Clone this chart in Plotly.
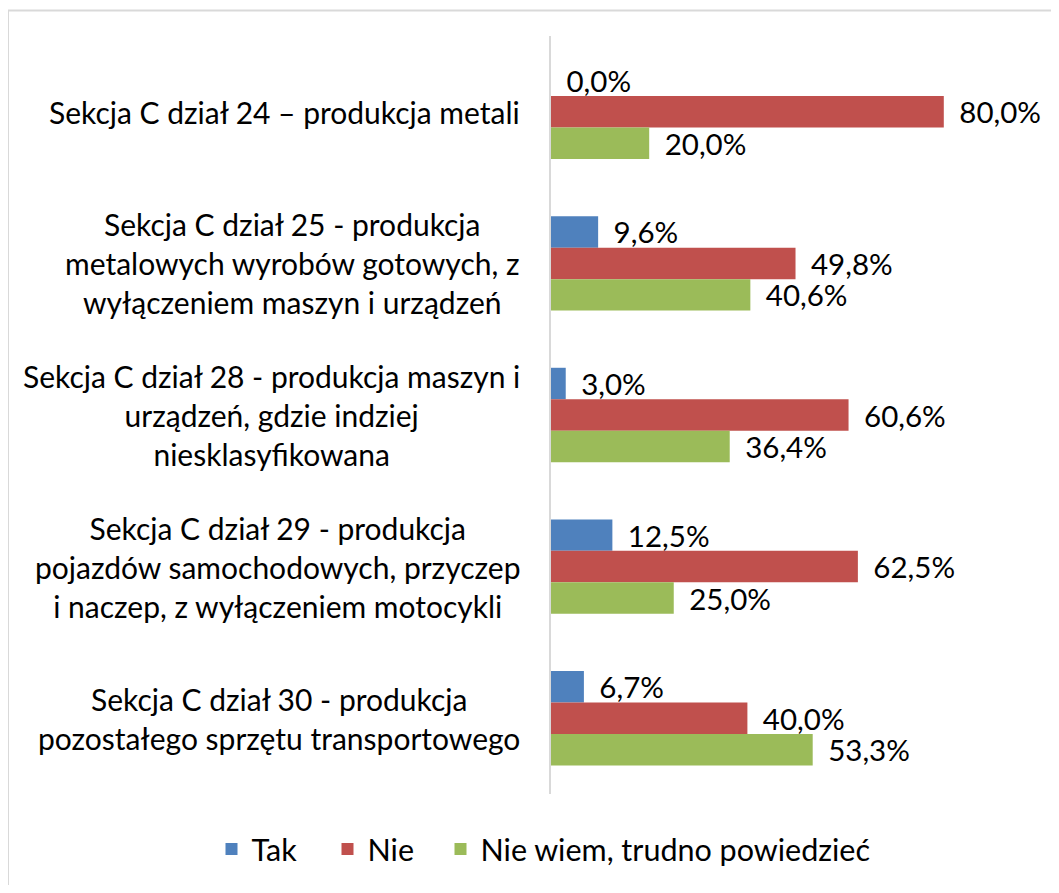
import plotly.graph_objects as go

categories = [
    "Sekcja C dział 24 – produkcja metali",
    "Sekcja C dział 25 - produkcja<br>metalowych wyrobów gotowych, z<br>wyłączeniem maszyn i urządzeń",
    "Sekcja C dział 28 - produkcja maszyn i<br>urządzeń, gdzie indziej<br>niesklasyfikowana",
    "Sekcja C dział 29 - produkcja<br>pojazdów samochodowych, przyczep<br>i naczep, z wyłączeniem motocykli",
    "Sekcja C dział 30 - produkcja<br>pozostałego sprzętu transportowego",
]
series_names = ["Tak", "Nie", "Nie wiem, trudno powiedzieć"]
tak = [0.0, 9.6, 3.0, 12.5, 6.7]
nie = [80.0, 49.8, 60.6, 62.5, 40.0]
nie_wiem = [20.0, 40.6, 36.4, 25.0, 53.3]
colors = ["#4F81BD", "#C0504D", "#9BBB59"]

FONT = "Lato, 'Open Sans', sans-serif"
# page has an 8px body margin; figure coordinates are page minus 8
W, H = 1043, 877
L, T = 543, 28
pw, ph = 491, 770
R = W - L - pw
B = H - T - ph

legend_ids = ["legend", "legend2", "legend3"]
legend_px = [203.5, 319.5, 432.5]  # left edge of each legend entry (figure px)

def fmt(v):
    return "\u00a0\u2006" + f"{v:.1f}".replace(".", ",") + "%"

fig = go.Figure()
for name, vals, col, lg in zip(series_names, [tak, nie, nie_wiem], colors, legend_ids):
    fig.add_trace(go.Bar(
        y=categories, x=vals, orientation="h", name=name, legend=lg,
        marker=dict(color=col, line=dict(width=0)),
        text=[fmt(v) for v in vals], textposition="outside",
        constraintext="none", cliponaxis=False,
        textfont=dict(family=FONT, size=29.5, color="black"),
    ))

annotations = []
for c in categories:
    annotations.append(dict(
        x=0, y=c, xref="paper", yref="y", xanchor="right", yanchor="middle",
        xshift=-29, text=c, align="center", showarrow=False,
        font=dict(family=FONT, size=30, color="black"),
    ))

shapes = [dict(
    type="rect", xref="paper", yref="paper",
    x0=(0 - L) / pw, x1=(W + 20 - L) / pw,
    y0=-(H + 20 - T - ph) / ph, y1=1 + (T - 2) / ph,
    line=dict(color="#D9D9D9", width=2), fillcolor="rgba(0,0,0,0)", layer="below",
)]

legend_layout = {}
for lg, px in zip(legend_ids, legend_px):
    legend_layout[lg] = dict(
        orientation="h", xref="paper", yref="paper",
        x=(px - L) / pw, y=-(854 - T - ph) / ph,
        xanchor="left", yanchor="middle",
        font=dict(family=FONT, size=30.5, color="black"),
        bgcolor="rgba(0,0,0,0)",
    )

fig.update_layout(
    width=W, height=H,
    margin=dict(l=L, r=R, t=T, b=B),
    barmode="group", bargap=0.377, bargroupgap=0,
    plot_bgcolor="white", paper_bgcolor="white",
    font=dict(family=FONT, size=29.5, color="black"),
    xaxis=dict(range=[0, 100], visible=False, showgrid=False, zeroline=False),
    yaxis=dict(autorange="reversed", showticklabels=False, ticks="",
               showline=True, linecolor="#D9D9D9", linewidth=1.5,
               showgrid=False, zeroline=False),
    annotations=annotations,
    shapes=shapes,
    showlegend=True,
    **legend_layout,
)

fig.write_html("out.html")
